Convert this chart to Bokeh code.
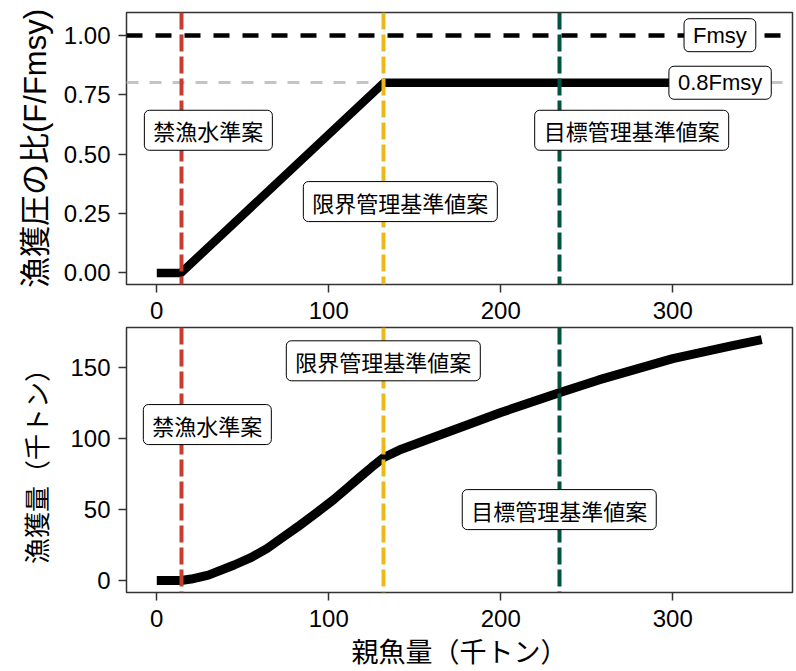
from bokeh.plotting import figure
from bokeh.layouts import column
from bokeh.models import Range1d, FixedTicker, NumeralTickFormatter
from bokeh.core.properties import value
from bokeh.embed import file_html
from bokeh.resources import INLINE

# ---------------- data ----------------
ssb_hcr = [0.0, 14.1, 132.0, 351.7]
f_ratio = [0.0, 0.0, 0.8, 0.8]

ssb_catch = [0.0, 14.1, 20.0, 30.0, 45.0, 55.0, 64.0, 73.0, 83.0, 93.0, 103.0,
             110.0, 118.0, 125.0, 132.0, 141.0, 161.0, 180.0, 200.0, 234.0,
             257.0, 300.0, 334.0, 351.7]
catch = [0.0, 0.0, 1.0, 3.8, 10.9, 16.3, 22.5, 30.2, 38.8, 47.8, 57.2,
         64.5, 72.8, 80.0, 86.8, 92.0, 101.0, 109.5, 118.5, 132.5,
         141.5, 156.5, 165.5, 170.0]

ref_names = ["禁漁水準案", "限界管理基準値案", "目標管理基準値案"]
ref_ssb = [14.1, 132.0, 234.1]
ref_colors = ["#C73C2E", "#EDB918", "#00533E"]

fmsy_level = [1.0]
f08_level = [0.8]
f_line_names = ["Fmsy", "0.8Fmsy"]
f_line_label_x = [327.4, 327.5]
f_line_label_y = [1.0, 0.8]

top_label_x = [30.0, 141.6, 276.1]
top_label_y = [0.60, 0.30, 0.60]
bot_label_x = [29.4, 131.7, 234.0]
bot_label_y = [110.0, 155.0, 50.0]

x_ticks = [0, 100, 200, 300]
f_ticks = [0, 0.25, 0.5, 0.75, 1.0]
catch_ticks = [0, 50, 100, 150]

x_title = "親魚量（千トン）"
y_title_top = "漁獲圧の比(F/Fmsy)"
y_title_bot = "漁獲量（千トン）"

# ---------------- layout constants ----------------
W = 794
XR = (-17.6, 369.6)

CJK = "Noto Sans CJK JP"
LAT = "Liberation Sans"


def style(p, xticks, yticks, ylabel, ylabel_size, ylabel_standoff):
    p.xgrid.visible = False
    p.ygrid.visible = False
    p.outline_line_color = "#333333"
    p.outline_line_width = 1.5
    p.background_fill_color = "white"
    p.border_fill_color = "white"
    p.xaxis.ticker = FixedTicker(ticks=xticks)
    p.yaxis.ticker = FixedTicker(ticks=yticks)
    for ax in p.axis:
        ax.axis_line_color = None
        ax.major_tick_line_color = "#333333"
        ax.major_tick_line_width = 1.5
        ax.major_tick_out = 8
        ax.major_tick_in = 0
        ax.minor_tick_line_color = None
        ax.major_label_text_font = LAT
        ax.major_label_text_font_size = "24px"
        ax.major_label_text_font_style = "normal"
        ax.major_label_text_color = "black"
        ax.axis_label_text_font_style = "normal"
        ax.axis_label_text_color = "black"
    p.xaxis.major_label_standoff = 9
    p.yaxis.major_label_standoff = 8
    p.yaxis.axis_label = ylabel
    p.yaxis.axis_label_text_font = LAT + ", " + CJK
    p.yaxis.axis_label_text_font_size = ylabel_size
    p.yaxis.axis_label_standoff = ylabel_standoff


def add_labels(p, xs, ys, texts, font):
    p.text(x=xs, y=ys, text=texts, text_font=value(font), text_font_size="22px",
           text_font_style="normal",
           text_color="black", text_align="center", text_baseline="middle",
           background_fill_color="white", border_line_color="black",
           border_line_width=1, padding=dict(left=9, right=9, top=4, bottom=4),
           border_radius=5)


# ---------------- top panel ----------------
p1 = figure(width=W, height=322, output_backend="svg", toolbar_location=None,
            x_range=Range1d(*XR), y_range=Range1d(-0.0488, 1.0955),
            min_border_left=126, min_border_right=2, min_border_top=12,
            min_border_bottom=38)
style(p1, x_ticks, f_ticks, y_title_top, "31px", 8)
p1.yaxis.formatter = NumeralTickFormatter(format="0.00")

p1.hspan(y=f08_level, line_color="#C4C4C4", line_width=3, line_dash="12 11")
p1.hspan(y=fmsy_level, line_color="black", line_width=4.5, line_dash="16 13")
p1.line(x=ssb_hcr, y=f_ratio, line_color="black", line_width=8.5,
        line_join="round", line_cap="butt")
p1.vspan(x=ref_ssb, line_color=ref_colors, line_width=4, line_dash="17 5")
add_labels(p1, top_label_x, top_label_y, ref_names, CJK)
add_labels(p1, f_line_label_x, f_line_label_y, f_line_names, LAT)

# ---------------- bottom panel ----------------
p2 = figure(width=W, height=348, output_backend="svg", toolbar_location=None,
            x_range=Range1d(*XR), y_range=Range1d(-8.5, 178.5),
            min_border_left=126, min_border_right=2, min_border_top=5,
            min_border_bottom=10)
style(p2, x_ticks, catch_ticks, y_title_bot, "26px", 14)
p2.xaxis.axis_label = x_title
p2.xaxis.axis_label_text_font = LAT + ", " + CJK
p2.xaxis.axis_label_text_font_size = "27px"
p2.xaxis.axis_label_standoff = 8

p2.line(x=ssb_catch, y=catch, line_color="black", line_width=9,
        line_join="round", line_cap="butt")
p2.vspan(x=ref_ssb, line_color=ref_colors, line_width=4, line_dash="17 5")
add_labels(p2, bot_label_x, bot_label_y, ref_names, CJK)

layout = column(p1, p2, spacing=0)
open("out.html", "w").write(file_html(layout, INLINE))
